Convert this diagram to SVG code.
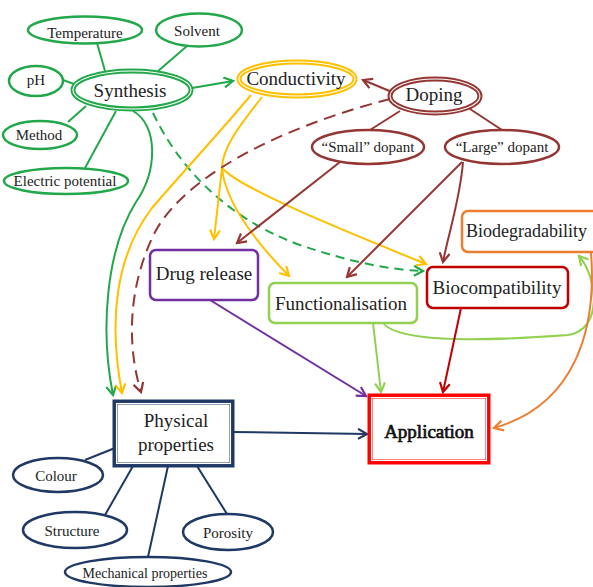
<svg xmlns="http://www.w3.org/2000/svg" width="593" height="587" viewBox="0 0 593 587">
<style>
text{font-family:"Liberation Serif","Times New Roman",serif;fill:#222;text-anchor:middle}
.s{font-size:15px}.m{font-size:19px}
.ln{fill:none;stroke-width:2}
.g{stroke:#22a84a}.y{stroke:#ffc000}.r{stroke:#943634}.p{stroke:#7030a0}.lg{stroke:#92d050}.dr{stroke:#c00000}.o{stroke:#ed7d31}.n{stroke:#1f3864}
.el{fill:#fff;stroke-width:2.5}
</style>
<defs>
<marker id="aG" viewBox="0 0 12 12" refX="10" refY="6" markerWidth="12" markerHeight="12" markerUnits="userSpaceOnUse" orient="auto"><path d="M1,1 L10,6 L1,11" fill="none" stroke="#22a84a" stroke-width="2.2"/></marker>
<marker id="aY" viewBox="0 0 12 12" refX="10" refY="6" markerWidth="12" markerHeight="12" markerUnits="userSpaceOnUse" orient="auto"><path d="M1,1 L10,6 L1,11" fill="none" stroke="#ffc000" stroke-width="2.2"/></marker>
<marker id="aR" viewBox="0 0 12 12" refX="10" refY="6" markerWidth="12" markerHeight="12" markerUnits="userSpaceOnUse" orient="auto"><path d="M1,1 L10,6 L1,11" fill="none" stroke="#943634" stroke-width="2.2"/></marker>
<marker id="aP" viewBox="0 0 12 12" refX="10" refY="6" markerWidth="12" markerHeight="12" markerUnits="userSpaceOnUse" orient="auto"><path d="M1,1 L10,6 L1,11" fill="none" stroke="#7030a0" stroke-width="2.2"/></marker>
<marker id="aL" viewBox="0 0 12 12" refX="10" refY="6" markerWidth="12" markerHeight="12" markerUnits="userSpaceOnUse" orient="auto"><path d="M1,1 L10,6 L1,11" fill="none" stroke="#92d050" stroke-width="2.2"/></marker>
<marker id="aD" viewBox="0 0 12 12" refX="10" refY="6" markerWidth="12" markerHeight="12" markerUnits="userSpaceOnUse" orient="auto"><path d="M1,1 L10,6 L1,11" fill="none" stroke="#c00000" stroke-width="2.2"/></marker>
<marker id="aO" viewBox="0 0 12 12" refX="10" refY="6" markerWidth="12" markerHeight="12" markerUnits="userSpaceOnUse" orient="auto"><path d="M1,1 L10,6 L1,11" fill="none" stroke="#ed7d31" stroke-width="2.2"/></marker>
<marker id="aN" viewBox="0 0 12 12" refX="10" refY="6" markerWidth="12" markerHeight="12" markerUnits="userSpaceOnUse" orient="auto"><path d="M1,1 L10,6 L1,11" fill="none" stroke="#1f3864" stroke-width="2.2"/></marker>
</defs>
<rect width="593" height="587" fill="#fff"/>

<g id="connectors">
<g class="ln g" stroke-width="1.5">
<line x1="97" y1="43" x2="105" y2="71"/>
<line x1="187" y1="46" x2="157" y2="72"/>
<line x1="63" y1="80" x2="74" y2="84"/>
<line x1="68" y1="122" x2="86" y2="106"/>
<line x1="85" y1="168" x2="116" y2="111"/>
</g>
<line class="ln r" stroke-width="1.5" x1="400" y1="111" x2="370" y2="130"/>
<line class="ln r" stroke-width="1.5" x1="470" y1="109" x2="502" y2="130"/>
<g class="ln n" stroke-width="1.8">
<line x1="85" y1="460" x2="115" y2="448"/>
<line x1="105" y1="515" x2="133" y2="466"/>
<line x1="148" y1="557" x2="168" y2="466"/>
<line x1="227" y1="514" x2="197" y2="466"/>
</g>
<line class="ln g" stroke-width="2.5" x1="192" y1="88" x2="233" y2="81" marker-end="url(#aG)"/>
<path class="ln g" stroke-width="2.5" d="M133,111 C158,125 158,170 136,202 C106,250 100,330 113,395" marker-end="url(#aG)"/>
<path class="ln g" stroke-width="2.5" stroke-dasharray="9,6" d="M153,113 C180,170 230,220 300,245 C350,262 390,270 423,271" marker-end="url(#aG)"/>
<path class="ln y" d="M251,95 C215,138 180,175 152,208 C116,255 108,320 122,393" marker-end="url(#aY)"/>
<path class="ln y" d="M262,97 C240,125 222,148 222,168 L214,239" marker-end="url(#aY)"/>
<path class="ln y" d="M222,168 C225,200 252,238 289,276" marker-end="url(#aY)"/>
<path class="ln y" d="M222,168 C240,188 330,225 426,264" marker-end="url(#aY)"/>
<line class="ln r" stroke-width="2.5" x1="392" y1="92" x2="363" y2="80" marker-end="url(#aR)"/>
<path class="ln r" stroke-width="2.5" stroke-dasharray="12,7" d="M390,99 C300,122 190,168 155,232 C126,290 128,350 141,392" marker-end="url(#aR)"/>
<line class="ln r" x1="340" y1="162" x2="237" y2="243" marker-end="url(#aR)"/>
<line class="ln r" x1="462" y1="162" x2="347" y2="277" marker-end="url(#aR)"/>
<path class="ln r" d="M463,162 C460,200 448,235 443,262" marker-end="url(#aR)"/>
<line class="ln p" x1="210" y1="300" x2="366" y2="396" marker-end="url(#aP)"/>
<line class="ln lg" x1="373" y1="323" x2="381" y2="392" marker-end="url(#aL)"/>
<path class="ln lg" d="M383,323 C400,345 500,340 568,335 C603,330 598,278 579,256" marker-end="url(#aL)"/>
<line class="ln dr" x1="461" y1="308" x2="443" y2="392" marker-end="url(#aD)"/>
<path class="ln o" d="M591,252 C597,330 575,405 494,428" marker-end="url(#aO)"/>
<line class="ln n" x1="232" y1="432" x2="367" y2="434" marker-end="url(#aN)"/>
</g>

<g id="temperature"><ellipse class="el g" cx="85" cy="30" rx="57" ry="13.5"/><text class="s" x="85" y="38">Temperature</text></g>
<g id="solvent"><ellipse class="el g" cx="199" cy="30" rx="43" ry="16.5"/><text class="s" x="197" y="36">Solvent</text></g>
<g id="ph"><ellipse class="el g" cx="36" cy="81" rx="27" ry="15"/><text class="s" x="36" y="85">pH</text></g>
<g id="method"><ellipse class="el g" cx="40" cy="135" rx="37" ry="14"/><text class="s" x="39" y="140">Method</text></g>
<g id="electric"><ellipse class="el g" cx="66" cy="181" rx="62" ry="13"/><text class="s" x="65" y="186">Electric potential</text></g>
<g id="synthesis"><ellipse cx="132" cy="90" rx="59" ry="19" fill="#fff" stroke="#22a84a" stroke-width="5"/><ellipse cx="132" cy="90" rx="59" ry="19" fill="none" stroke="#fff" stroke-width="1.1"/><text class="m" x="130" y="97">Synthesis</text></g>
<g id="conductivity"><ellipse cx="297" cy="79" rx="58" ry="17" fill="#fff" stroke="#ffc000" stroke-width="5"/><ellipse cx="297" cy="79" rx="58" ry="17" fill="none" stroke="#fff" stroke-width="1.1"/><text class="m" x="296" y="85">Conductivity</text></g>
<g id="doping"><ellipse cx="435" cy="96" rx="45" ry="17" fill="#fff" stroke="#943634" stroke-width="5"/><ellipse cx="435" cy="96" rx="45" ry="17" fill="none" stroke="#fff" stroke-width="1.1"/><text class="m" x="434" y="101">Doping</text></g>
<g id="small"><ellipse class="el r" cx="368" cy="147" rx="56" ry="17"/><text class="s" x="368" y="152">“Small” dopant</text></g>
<g id="large"><ellipse class="el r" cx="502" cy="147" rx="57" ry="17"/><text class="s" x="502" y="152">“Large” dopant</text></g>
<g id="drug"><rect x="150" y="250" width="108" height="50" rx="6" fill="#fff" stroke="#7030a0" stroke-width="2.5"/><text class="m" x="204" y="280">Drug release</text></g>
<g id="func"><rect x="269" y="283" width="148" height="40" rx="6" fill="#fff" stroke="#92d050" stroke-width="2.5"/><text class="m" x="341" y="310">Functionalisation</text></g>
<g id="biocomp"><rect x="427" y="267" width="141" height="41" rx="6" fill="#fff" stroke="#c00000" stroke-width="2.5"/><text class="m" x="497" y="294">Biocompatibility</text></g>
<g id="biodeg"><rect x="462" y="211" width="150" height="41" rx="6" fill="#fff" stroke="#ed7d31" stroke-width="2.5"/><text x="466" y="237" style="text-anchor:start;font-size:18px">Biodegradability</text></g>
<g id="application"><rect x="370" y="396" width="118" height="66" fill="#fff" stroke="#ff0000" stroke-width="5"/><rect x="371.5" y="397.5" width="115" height="63" fill="none" stroke="#fff" stroke-width="1.1"/><text class="m" x="429" y="438" style="fill:#111;stroke:#111;stroke-width:0.7">Application</text></g>
<g id="physical"><rect x="115" y="402" width="117" height="63" fill="#fff" stroke="#1f3864" stroke-width="5"/><rect x="116.5" y="403.5" width="114" height="60" fill="none" stroke="#fff" stroke-width="1.1"/><text class="m" x="176" y="427">Physical</text><text class="m" x="176" y="451">properties</text></g>
<g id="colour"><ellipse class="el n" cx="58" cy="475" rx="45" ry="17"/><text class="s" x="56" y="481">Colour</text></g>
<g id="structure"><ellipse class="el n" cx="75" cy="530" rx="52" ry="18"/><text class="s" x="72" y="536">Structure</text></g>
<g id="porosity"><ellipse class="el n" cx="228" cy="532" rx="45" ry="18"/><text class="s" x="228" y="538">Porosity</text></g>
<g id="mechanical"><ellipse class="el n" cx="148" cy="572" rx="83" ry="15"/><text class="s" x="145" y="578" style="font-size:14px">Mechanical properties</text></g>
</svg>
